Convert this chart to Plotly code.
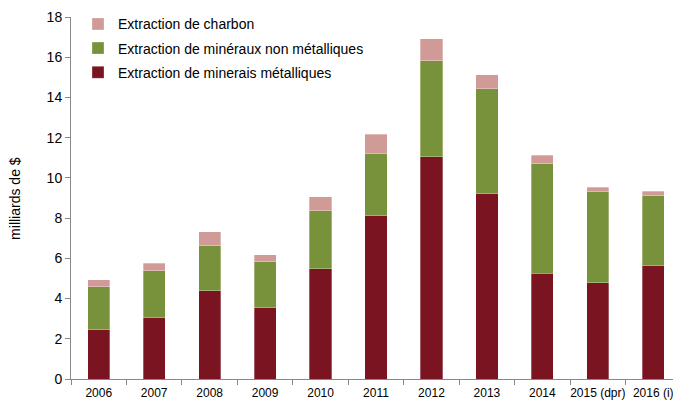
import plotly.graph_objects as go

# Donnees (milliards de $)
annees = ['2006', '2007', '2008', '2009', '2010', '2011', '2012', '2013',
          '2014', '2015 (dpr)', '2016 (i)']
metalliques = [2.44, 3.05, 4.38, 3.55, 5.47, 8.11, 11.06, 9.20, 5.27, 4.79, 5.62]
non_metalliques = [2.14, 2.34, 2.25, 2.29, 2.89, 3.08, 4.76, 5.24, 5.44, 4.53, 3.50]
charbon = [0.35, 0.37, 0.70, 0.33, 0.69, 0.98, 1.10, 0.68, 0.42, 0.21, 0.22]

# (nom, valeurs, couleur, rang dans la legende)
series = [
    ('Extraction de minerais métalliques', metalliques, '#7A1420', 3),
    ('Extraction de minéraux non métalliques', non_metalliques, '#77923A', 2),
    ('Extraction de charbon', charbon, '#D09B96', 1),
]

fig = go.Figure()
for i, (name, vals, color, rank) in enumerate(series):
    fig.add_trace(go.Bar(
        x=annees, y=vals, name=name, legendgroup=str(i), legendrank=rank,
        marker=dict(color=color, line=dict(color='rgba(255,255,255,0.6)', width=0.5)),
    ))

# la page ajoute une marge de 8 px autour de la figure
font = 'Liberation Sans, Arial, sans-serif'
fig.update_layout(
    barmode='stack',
    bargap=0.6,
    width=673, height=396,
    margin=dict(l=63, r=0, t=9, b=25),
    paper_bgcolor='white', plot_bgcolor='white',
    font=dict(family=font, size=14, color='black'),
    showlegend=True,
    legend=dict(
        traceorder='grouped',
        x=0.0115, y=1.024, xanchor='left', yanchor='top',
        bgcolor='rgba(0,0,0,0)',
        font=dict(size=14),
        itemwidth=30,
        tracegroupgap=3,
    ),
    xaxis=dict(
        range=[-0.5, 10.5],
        showline=True, linecolor='#888888', linewidth=1,
        ticks='outside', tickson='boundaries', ticklen=5, tickcolor='#888888',
        tickfont=dict(size=12), tickangle=0, ticklabelstandoff=3,
        showgrid=False, automargin=False,
    ),
    yaxis=dict(
        range=[0, 18], dtick=2,
        showline=True, linecolor='#888888', linewidth=1,
        ticks='outside', ticklen=5, tickcolor='#888888',
        tickfont=dict(size=14),
        showgrid=False, zeroline=False, automargin=False,
    ),
    annotations=[dict(
        text='milliards de $', textangle=-90,
        xref='paper', yref='paper', x=-0.092, y=0.5,
        xanchor='center', yanchor='middle', showarrow=False,
        font=dict(size=14),
    )],
)

fig.write_html('out.html')
